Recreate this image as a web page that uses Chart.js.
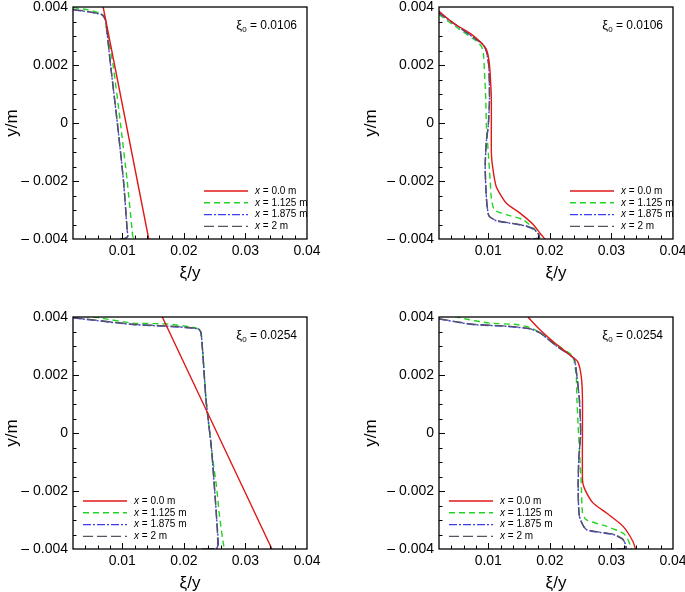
<!DOCTYPE html>
<html>
<head>
<meta charset="utf-8">
<script src="https://cdn.jsdelivr.net/npm/chart.js@4.4.1/dist/chart.umd.min.js"></script>
<style>
  body { margin: 0; background: #fff; width: 685px; height: 592px; position: relative; overflow: hidden; }
  canvas { position: absolute; }
</style>
</head>
<body>
<canvas id="c0" width="342" height="282" style="left:0;top:0"></canvas>
<canvas id="c1" width="343" height="282" style="left:342px;top:0"></canvas>
<canvas id="c2" width="342" height="282" style="left:0;top:310px"></canvas>
<canvas id="c3" width="343" height="282" style="left:342px;top:310px"></canvas>
<script>
// axis ticks
const xTickVals = [0.01, 0.02, 0.03, 0.04];
const yTickVals = [-0.004, -0.002, 0, 0.002, 0.004];
const seriesNames = ['0.0 m', '1.125 m', '1.875 m', '2 m'];
const xi0Labels = ['0.0106', '0.0106', '0.0254', '0.0254'];

// panel a (top left)  [xi, y]
const a_x0 = [[0.0069, 0.004], [0.0106, 0], [0.0143, -0.004]];
const a_x1 = [[0.002, 0.00398], [0.0045, 0.0039], [0.0063, 0.00379], [0.0069, 0.0037], [0.0072, 0.00356], [0.0085, 0.002], [0.0097, 0], [0.0108, -0.002], [0.0116, -0.0037], [0.0117, -0.0039], [0.0119, -0.00396], [0.0124, -0.00394]];
const a_x2 = [[0.002, 0.0039], [0.0045, 0.00383], [0.0066, 0.00374], [0.007, 0.00367], [0.0073, 0.00353], [0.0081, 0.002], [0.0092, 0], [0.0102, -0.002], [0.0108, -0.0037], [0.0109, -0.0039], [0.0105, -0.00398], [0.0098, -0.004]];
const a_x3 = [[0.002, 0.00392], [0.0045, 0.00384], [0.0066, 0.00375], [0.007, 0.00368], [0.0073, 0.00354], [0.0081, 0.002], [0.0092, 0], [0.0102, -0.002], [0.0108, -0.0037], [0.0109, -0.0039], [0.0104, -0.00398], [0.0096, -0.004]];

// panel b (top right)
const b_x0 = [[0.002, 0.00385], [0.0043, 0.00345], [0.007, 0.0031], [0.0086, 0.00282], [0.0097, 0.00253], [0.0101, 0.00218], [0.0103, 0.00172], [0.0105, 0.0008], [0.0105, -0.001], [0.0107, -0.0015], [0.0113, -0.0022], [0.0129, -0.00276], [0.0151, -0.0031], [0.0173, -0.0035], [0.0184, -0.0038], [0.0192, -0.004]];
const b_x1 = [[0.002, 0.00374], [0.0054, 0.00322], [0.0081, 0.00282], [0.0089, 0.00264], [0.0092, 0.0024], [0.0094, 0.0017], [0.0096, 0.0008], [0.0097, -0.0001], [0.01, -0.001], [0.0103, -0.00195], [0.0105, -0.0026], [0.011, -0.003], [0.0129, -0.00316], [0.0156, -0.00333], [0.0175, -0.00366], [0.0184, -0.00397]];
const b_x2 = [[0.002, 0.00379], [0.0054, 0.00328], [0.0081, 0.00287], [0.0092, 0.0027], [0.0097, 0.00247], [0.0101, 0.00195], [0.0102, 0.0008], [0.01, -0.0001], [0.0097, -0.0006], [0.0095, -0.0015], [0.0097, -0.0026], [0.0101, -0.0032], [0.0113, -0.00337], [0.014, -0.00347], [0.0162, -0.00356], [0.0175, -0.00368], [0.0182, -0.00385], [0.0183, -0.00397], [0.0159, -0.004]];
const b_x3 = [[0.002, 0.00381], [0.0054, 0.00329], [0.0081, 0.00288], [0.0092, 0.0027], [0.0097, 0.00247], [0.0101, 0.00195], [0.0102, 0.0008], [0.01, -0.0001], [0.0097, -0.0006], [0.0095, -0.0015], [0.0097, -0.0026], [0.0101, -0.0032], [0.0113, -0.00336], [0.014, -0.00346], [0.0162, -0.00355], [0.0175, -0.00367], [0.0182, -0.00385], [0.0182, -0.00397], [0.0161, -0.004]];

// panel c (bottom left)
const c_x0 = [[0.0165, 0.004], [0.0254, 0], [0.0343, -0.004]];
const c_x1 = [[0.002, 0.00406], [0.0063, 0.00397], [0.0117, 0.00379], [0.0172, 0.00376], [0.022, 0.00362], [0.0228, 0.00345], [0.0236, 0.00115], [0.0242, 0], [0.0247, -0.0009], [0.0253, -0.00184], [0.0258, -0.00287], [0.0265, -0.00391], [0.0268, -0.00397]];
const c_x2 = [[0.002, 0.00397], [0.0117, 0.00374], [0.0172, 0.00368], [0.0223, 0.00359], [0.0228, 0.00345], [0.0236, 0.00115], [0.0245, -0.00057], [0.0253, -0.00287], [0.0256, -0.0039], [0.0252, -0.00398], [0.0226, -0.004]];
const c_x3 = [[0.002, 0.00398], [0.0117, 0.00375], [0.0172, 0.00369], [0.0223, 0.0036], [0.0228, 0.00346], [0.0236, 0.00115], [0.0245, -0.00057], [0.0253, -0.00287], [0.0255, -0.0039], [0.0251, -0.00398], [0.0228, -0.004]];

// panel d (bottom right)
const d_x0 = [[0.01645, 0.004], [0.0184, 0.00356], [0.0211, 0.00305], [0.0232, 0.0027], [0.0245, 0.00247], [0.0251, 0.00195], [0.0253, 0.00115], [0.0253, -0.0016], [0.0256, -0.0019], [0.027, -0.00241], [0.0292, -0.00276], [0.0319, -0.00322], [0.0335, -0.00374], [0.0339, -0.004]];
const d_x1 = [[0.0045, 0.00402], [0.0064, 0.00393], [0.0102, 0.00379], [0.0146, 0.00374], [0.017, 0.00362], [0.0184, 0.00345], [0.0211, 0.00305], [0.0238, 0.00264], [0.024, 0.00241], [0.0243, 0.00195], [0.0244, 0.00115], [0.0246, 0.00023], [0.0248, -0.00057], [0.0251, -0.00172], [0.0253, -0.00276], [0.0259, -0.00299], [0.0292, -0.00322], [0.0319, -0.00345], [0.0327, -0.00368], [0.0331, -0.00391], [0.0333, -0.004]];
const d_x2 = [[0.002, 0.00393], [0.0075, 0.00374], [0.0129, 0.00368], [0.0167, 0.00359], [0.0184, 0.00345], [0.0211, 0.00299], [0.0232, 0.0027], [0.024, 0.00253], [0.0244, 0.00195], [0.0248, 0.00115], [0.025, 0], [0.0247, -0.00092], [0.0246, -0.00184], [0.0248, -0.00287], [0.0259, -0.00333], [0.0303, -0.0035], [0.0319, -0.00368], [0.0324, -0.00397], [0.03, -0.004]];
const d_x3 = [[0.002, 0.00394], [0.0075, 0.00375], [0.0129, 0.00369], [0.0167, 0.0036], [0.0184, 0.00346], [0.0211, 0.003], [0.0232, 0.0027], [0.024, 0.00253], [0.0244, 0.00195], [0.0248, 0.00115], [0.025, 0], [0.0247, -0.00092], [0.0246, -0.00184], [0.0248, -0.00287], [0.0259, -0.00332], [0.0303, -0.00349], [0.0319, -0.00367], [0.0323, -0.00397], [0.0302, -0.004]];

const lineColors = ['#e01818', '#22d422', '#3c3cf0', '#55555f'];
const lineDashes = [[], [6, 4], [8, 2, 2, 2], [10, 4]];
const drawOrder = [0, 3, 2, 1]; // red on top, then grey, blue, green
const FONT = '"Liberation Sans", Arial, sans-serif';

// frame, inward ticks, legend and the xi0 note
const decorPlugin = {
  id: 'decor',
  afterDatasetsDraw(chart, args, opts) {
    const { ctx, chartArea: a, scales: { x, y } } = chart;
    ctx.save();
    ctx.strokeStyle = '#000';
    ctx.lineWidth = 1;
    ctx.beginPath();
    for (let v = 0.004; v < 0.0399; v += 0.002) {
      const px = Math.round(x.getPixelForValue(v)) + 0.5;
      const major = Math.abs(v * 100 - Math.round(v * 100)) < 1e-6;
      ctx.moveTo(px, a.bottom);
      ctx.lineTo(px, a.bottom - (major ? 6 : 3.5));
    }
    for (let v = -0.0035; v < 0.0039; v += 0.0005) {
      const py = Math.round(y.getPixelForValue(v)) + 0.5;
      const major = Math.abs(v * 500 - Math.round(v * 500)) < 1e-6;
      ctx.moveTo(a.left, py);
      ctx.lineTo(a.left + (major ? 6 : 3.5), py);
    }
    ctx.stroke();
    ctx.lineWidth = 1.3;
    ctx.strokeRect(a.left, a.top, a.right - a.left, a.bottom - a.top);

    // legend
    const lx = opts.legendLeft ? a.left + 10 : a.right - 103;
    chart.data.datasets.forEach((ds, i) => {
      const ly = a.bottom - 48 + i * 11.8;
      ctx.strokeStyle = ds.borderColor;
      ctx.lineWidth = 1.4;
      ctx.setLineDash(ds.borderDash);
      ctx.beginPath();
      ctx.moveTo(lx, ly);
      ctx.lineTo(lx + 44, ly);
      ctx.stroke();
      ctx.setLineDash([]);
      ctx.fillStyle = '#000';
      ctx.textBaseline = 'middle';
      ctx.textAlign = 'left';
      ctx.font = 'italic 10px ' + FONT;
      ctx.fillText('x', lx + 51, ly);
      const w = ctx.measureText('x').width;
      ctx.font = '10px ' + FONT;
      ctx.fillText(' = ' + ds.label, lx + 51 + w, ly);
    });

    // xi0 note
    const ny = a.top + 18;
    ctx.font = '13px ' + FONT;
    const w1 = ctx.measureText('ξ').width;
    ctx.font = '8px ' + FONT;
    const w2 = ctx.measureText('0').width;
    ctx.font = '12px ' + FONT;
    const t3 = ' = ' + opts.xi0;
    const w3 = ctx.measureText(t3).width;
    let nx = a.right - 10 - (w1 + w2 + w3);
    ctx.textBaseline = 'alphabetic';
    ctx.font = '13px ' + FONT;
    ctx.fillText('ξ', nx, ny + 4);
    ctx.font = '8px ' + FONT;
    ctx.fillText('0', nx + w1, ny + 7);
    ctx.font = '12px ' + FONT;
    ctx.fillText(t3, nx + w1 + w2, ny + 4);
    ctx.restore();
  }
};

function yLabel(v) {
  if (Math.abs(v) < 1e-9) return '0';
  return (v < 0 ? '– ' : '') + Math.abs(v).toFixed(3);
}

function makePanel(id, series, xi0, leftW, rightPad, titlePad, legendLeft) {
  return new Chart(document.getElementById(id), {
    type: 'scatter',
    data: {
      datasets: series.map((pts, i) => ({
        label: seriesNames[i],
        data: pts.map(p => ({ x: p[0], y: p[1] })),
        showLine: true,
        borderColor: lineColors[i],
        borderWidth: 1.4,
        borderDash: lineDashes[i],
        pointRadius: 0,
        tension: 0.2,
        fill: false,
        order: drawOrder[i]
      }))
    },
    options: {
      responsive: false,
      animation: false,
      layout: { padding: { left: 0, right: rightPad, top: 7, bottom: 0 } },
      plugins: {
        legend: { display: false },
        tooltip: { enabled: false },
        decor: { xi0: xi0, legendLeft: legendLeft }
      },
      scales: {
        x: {
          type: 'linear', min: 0.002, max: 0.04,
          afterBuildTicks: s => { s.ticks = xTickVals.map(v => ({ value: v })); },
          afterFit: s => { s.height = 43; s.paddingLeft = 0; s.paddingRight = 0; },
          ticks: { color: '#000', padding: 5, font: { family: FONT, size: 14, lineHeight: 1 }, callback: v => v.toFixed(2) },
          grid: { display: false, drawTicks: false },
          border: { display: false },
          title: { display: true, text: 'ξ/y', color: '#000', font: { family: FONT, size: 17, lineHeight: 1 }, padding: { top: 0, bottom: 0.5 } }
        },
        y: {
          type: 'linear', min: -0.004, max: 0.004,
          afterBuildTicks: s => { s.ticks = yTickVals.map(v => ({ value: v })); },
          afterFit: s => { s.width = leftW; s.paddingTop = 0; s.paddingBottom = 0; },
          ticks: { color: '#000', padding: 5, font: { family: FONT, size: 14, lineHeight: 1 }, callback: v => yLabel(v) },
          grid: { display: false, drawTicks: false },
          border: { display: false },
          title: { display: true, text: 'y/m', color: '#000', font: { family: FONT, size: 17, lineHeight: 1 }, padding: { top: titlePad, bottom: 0 } }
        }
      }
    },
    plugins: [decorPlugin]
  });
}

makePanel('c0', [a_x0, a_x1, a_x2, a_x3], xi0Labels[0], 73, 35, 3.5, false);
makePanel('c1', [b_x0, b_x1, b_x2, b_x3], xi0Labels[1], 97, 12, 20.5, false);
makePanel('c2', [c_x0, c_x1, c_x2, c_x3], xi0Labels[2], 73, 35, 3.5, true);
makePanel('c3', [d_x0, d_x1, d_x2, d_x3], xi0Labels[3], 97, 12, 20.5, true);
</script>
</body>
</html>
